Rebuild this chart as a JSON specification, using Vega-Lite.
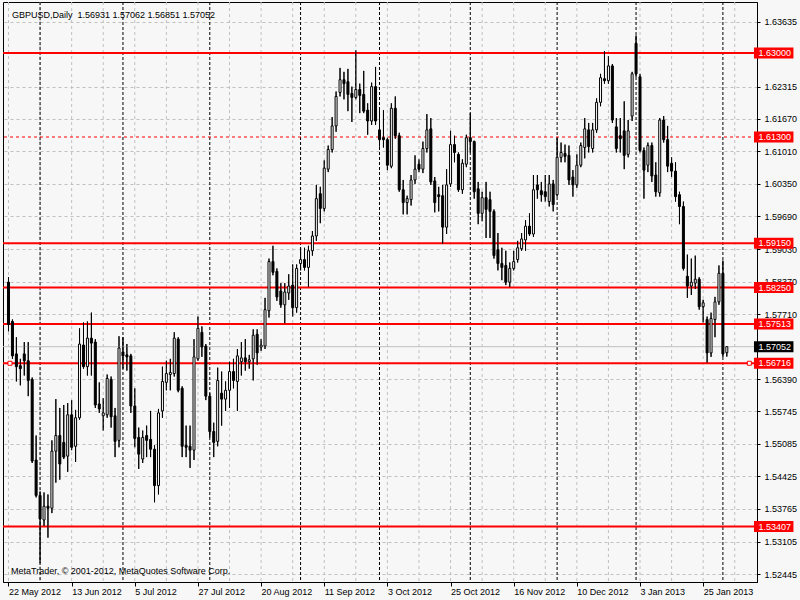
{
"$schema":"https://vega.github.io/schema/vega-lite/v6.json",
"width":754,"height":580,
"autosize":{"type":"none"},
"padding":{"left":3,"top":2,"right":43,"bottom":18},
"background":"#f7f7f7",
"config":{"font":"Liberation Sans","view":{"stroke":"black","strokeWidth":1,"fill":"#f7f7f7"},"axis":{"labelFont":"Liberation Sans","labelFontSize":9,"labelColor":"black","domainColor":"black","tickColor":"black"}},
"datasets":{
"k":[
{"o":1.58359,"h":1.58459,"l":1.57364,"c":1.57503},
{"o":1.57563,"h":1.57603,"l":1.56806,"c":1.56866},
{"o":1.56906,"h":1.57244,"l":1.56348,"c":1.56647},
{"o":1.56667,"h":1.56806,"l":1.56269,"c":1.56607},
{"o":1.56906,"h":1.57145,"l":1.56468,"c":1.56767},
{"o":1.56767,"h":1.57145,"l":1.56050,"c":1.56368},
{"o":1.56388,"h":1.56428,"l":1.54696,"c":1.54736},
{"o":1.54756,"h":1.55253,"l":1.53999,"c":1.54039},
{"o":1.54039,"h":1.54119,"l":1.52665,"c":1.53561},
{"o":1.53541,"h":1.54099,"l":1.53422,"c":1.53820},
{"o":1.53820,"h":1.54059,"l":1.53183,"c":1.53780},
{"o":1.53780,"h":1.55154,"l":1.53681,"c":1.54935},
{"o":1.54935,"h":1.55990,"l":1.54298,"c":1.55253},
{"o":1.55253,"h":1.55811,"l":1.54357,"c":1.54676},
{"o":1.55114,"h":1.55871,"l":1.54776,"c":1.54815},
{"o":1.54835,"h":1.55910,"l":1.54517,"c":1.55672},
{"o":1.55672,"h":1.55970,"l":1.54955,"c":1.55014},
{"o":1.55034,"h":1.55771,"l":1.54716,"c":1.55612},
{"o":1.55612,"h":1.57424,"l":1.55572,"c":1.57105},
{"o":1.57085,"h":1.57543,"l":1.56607,"c":1.56647},
{"o":1.56647,"h":1.57563,"l":1.56468,"c":1.57225},
{"o":1.57225,"h":1.57742,"l":1.56468,"c":1.57125},
{"o":1.57145,"h":1.57205,"l":1.55811,"c":1.55871},
{"o":1.55891,"h":1.56329,"l":1.55711,"c":1.55791},
{"o":1.55652,"h":1.56010,"l":1.55353,"c":1.55711},
{"o":1.55672,"h":1.56488,"l":1.55612,"c":1.56408},
{"o":1.56388,"h":1.56448,"l":1.55413,"c":1.55632},
{"o":1.55652,"h":1.55811,"l":1.54815,"c":1.55134},
{"o":1.55154,"h":1.57264,"l":1.55014,"c":1.57025},
{"o":1.56946,"h":1.57244,"l":1.56607,"c":1.56866},
{"o":1.56886,"h":1.57105,"l":1.56567,"c":1.56846},
{"o":1.56866,"h":1.56906,"l":1.55711,"c":1.55851},
{"o":1.55851,"h":1.56209,"l":1.55014,"c":1.55194},
{"o":1.55214,"h":1.55413,"l":1.54576,"c":1.54875},
{"o":1.54776,"h":1.55353,"l":1.54696,"c":1.55214},
{"o":1.55253,"h":1.55453,"l":1.54815,"c":1.55154},
{"o":1.55174,"h":1.55751,"l":1.54815,"c":1.54975},
{"o":1.54975,"h":1.55054,"l":1.53900,"c":1.54238},
{"o":1.54238,"h":1.55791,"l":1.54059,"c":1.55711},
{"o":1.55751,"h":1.56647,"l":1.55612,"c":1.56348},
{"o":1.56329,"h":1.56767,"l":1.56169,"c":1.56508},
{"o":1.56488,"h":1.56806,"l":1.56169,"c":1.56528},
{"o":1.56508,"h":1.57344,"l":1.56448,"c":1.57225},
{"o":1.57205,"h":1.57244,"l":1.56129,"c":1.56169},
{"o":1.56209,"h":1.56249,"l":1.54815,"c":1.55034},
{"o":1.55054,"h":1.55453,"l":1.54815,"c":1.55014},
{"o":1.55034,"h":1.55453,"l":1.54596,"c":1.54955},
{"o":1.54955,"h":1.57205,"l":1.54756,"c":1.56846},
{"o":1.56806,"h":1.57663,"l":1.56767,"c":1.57424},
{"o":1.57344,"h":1.57463,"l":1.56846,"c":1.57045},
{"o":1.57065,"h":1.57105,"l":1.55970,"c":1.56050},
{"o":1.56050,"h":1.56110,"l":1.55214,"c":1.55333},
{"o":1.55333,"h":1.55512,"l":1.54815,"c":1.55114},
{"o":1.55134,"h":1.56627,"l":1.55034,"c":1.56368},
{"o":1.56110,"h":1.56548,"l":1.55453,"c":1.55990},
{"o":1.55990,"h":1.56348,"l":1.55751,"c":1.56169},
{"o":1.56169,"h":1.56747,"l":1.55811,"c":1.56548},
{"o":1.56548,"h":1.56806,"l":1.56209,"c":1.56368},
{"o":1.56348,"h":1.57005,"l":1.55751,"c":1.56866},
{"o":1.56747,"h":1.57145,"l":1.56468,"c":1.56826},
{"o":1.56826,"h":1.57205,"l":1.56567,"c":1.56747},
{"o":1.56747,"h":1.56886,"l":1.56607,"c":1.56787},
{"o":1.56806,"h":1.57404,"l":1.56368,"c":1.57284},
{"o":1.57304,"h":1.57404,"l":1.56687,"c":1.56926},
{"o":1.57045,"h":1.57205,"l":1.56966,"c":1.57085},
{"o":1.57065,"h":1.58041,"l":1.57005,"c":1.57802},
{"o":1.57782,"h":1.58837,"l":1.57643,"c":1.58777},
{"o":1.58777,"h":1.59096,"l":1.58499,"c":1.58558},
{"o":1.58578,"h":1.58638,"l":1.57981,"c":1.58061},
{"o":1.58180,"h":1.58339,"l":1.57842,"c":1.57901},
{"o":1.57901,"h":1.58339,"l":1.57523,"c":1.58160},
{"o":1.58140,"h":1.58519,"l":1.58001,"c":1.58280},
{"o":1.58300,"h":1.58718,"l":1.57663,"c":1.57842},
{"o":1.57842,"h":1.58718,"l":1.57742,"c":1.58638},
{"o":1.58738,"h":1.59056,"l":1.58598,"c":1.58817},
{"o":1.58817,"h":1.59056,"l":1.58598,"c":1.58658},
{"o":1.58658,"h":1.59096,"l":1.58260,"c":1.58996},
{"o":1.58996,"h":1.59395,"l":1.58897,"c":1.59295},
{"o":1.59295,"h":1.60330,"l":1.59196,"c":1.60052},
{"o":1.60151,"h":1.60291,"l":1.59554,"c":1.59853},
{"o":1.59853,"h":1.60828,"l":1.59793,"c":1.60669},
{"o":1.60649,"h":1.61127,"l":1.60589,"c":1.61047},
{"o":1.61047,"h":1.61704,"l":1.60987,"c":1.61525},
{"o":1.61525,"h":1.62222,"l":1.61406,"c":1.62122},
{"o":1.62202,"h":1.62700,"l":1.62122,"c":1.62461},
{"o":1.62461,"h":1.62620,"l":1.62063,"c":1.62381},
{"o":1.62421,"h":1.62680,"l":1.61824,"c":1.62162},
{"o":1.62182,"h":1.62321,"l":1.61605,"c":1.62102},
{"o":1.62102,"h":1.63058,"l":1.62063,"c":1.62262},
{"o":1.62262,"h":1.62381,"l":1.61784,"c":1.62142},
{"o":1.62162,"h":1.62640,"l":1.61784,"c":1.61824},
{"o":1.61844,"h":1.61983,"l":1.61346,"c":1.61625},
{"o":1.61625,"h":1.62401,"l":1.61545,"c":1.62321},
{"o":1.62321,"h":1.62720,"l":1.61545,"c":1.61625},
{"o":1.61445,"h":1.61844,"l":1.61107,"c":1.61246},
{"o":1.61286,"h":1.61844,"l":1.61087,"c":1.61246},
{"o":1.61246,"h":1.61286,"l":1.60629,"c":1.60729},
{"o":1.60709,"h":1.61983,"l":1.60669,"c":1.61883},
{"o":1.61883,"h":1.62122,"l":1.61266,"c":1.61326},
{"o":1.61326,"h":1.61386,"l":1.60191,"c":1.60231},
{"o":1.60231,"h":1.60430,"l":1.59733,"c":1.59972},
{"o":1.59972,"h":1.60111,"l":1.59733,"c":1.60052},
{"o":1.60032,"h":1.60530,"l":1.59912,"c":1.60430},
{"o":1.60430,"h":1.60928,"l":1.60350,"c":1.60649},
{"o":1.60749,"h":1.60848,"l":1.60589,"c":1.60649},
{"o":1.60649,"h":1.61207,"l":1.60569,"c":1.61067},
{"o":1.61067,"h":1.61764,"l":1.60987,"c":1.61445},
{"o":1.61465,"h":1.61684,"l":1.60330,"c":1.60390},
{"o":1.60410,"h":1.60490,"l":1.59773,"c":1.59972},
{"o":1.60131,"h":1.60291,"l":1.59793,"c":1.60092},
{"o":1.60111,"h":1.60330,"l":1.59136,"c":1.59474},
{"o":1.59474,"h":1.60649,"l":1.59335,"c":1.60330},
{"o":1.60350,"h":1.61426,"l":1.60291,"c":1.61147},
{"o":1.61147,"h":1.61326,"l":1.60788,"c":1.60987},
{"o":1.60948,"h":1.60987,"l":1.60191,"c":1.60231},
{"o":1.60231,"h":1.60848,"l":1.60151,"c":1.60768},
{"o":1.60749,"h":1.61346,"l":1.60689,"c":1.61286},
{"o":1.61286,"h":1.61784,"l":1.60987,"c":1.61207},
{"o":1.61207,"h":1.61226,"l":1.60052,"c":1.60191},
{"o":1.60251,"h":1.60390,"l":1.59534,"c":1.59753},
{"o":1.59753,"h":1.60191,"l":1.59594,"c":1.60072},
{"o":1.60072,"h":1.60390,"l":1.59255,"c":1.59833},
{"o":1.60032,"h":1.60191,"l":1.59255,"c":1.59793},
{"o":1.59793,"h":1.59833,"l":1.58837,"c":1.58897},
{"o":1.59016,"h":1.59355,"l":1.58598,"c":1.58738},
{"o":1.58738,"h":1.59056,"l":1.58399,"c":1.58658},
{"o":1.58698,"h":1.58996,"l":1.58300,"c":1.58359},
{"o":1.58359,"h":1.58758,"l":1.58260,"c":1.58638},
{"o":1.58638,"h":1.58996,"l":1.58598,"c":1.58777},
{"o":1.58817,"h":1.59196,"l":1.58757,"c":1.59056},
{"o":1.59036,"h":1.59355,"l":1.58996,"c":1.59235},
{"o":1.59215,"h":1.59614,"l":1.58996,"c":1.59494},
{"o":1.59494,"h":1.59753,"l":1.59295,"c":1.59335},
{"o":1.59335,"h":1.60530,"l":1.59275,"c":1.60231},
{"o":1.60330,"h":1.60530,"l":1.60052,"c":1.60231},
{"o":1.60211,"h":1.60390,"l":1.59992,"c":1.60131},
{"o":1.60191,"h":1.60530,"l":1.59992,"c":1.60092},
{"o":1.59992,"h":1.60530,"l":1.59892,"c":1.60350},
{"o":1.60350,"h":1.60430,"l":1.59793,"c":1.59932},
{"o":1.60131,"h":1.61286,"l":1.60092,"c":1.60888},
{"o":1.60888,"h":1.61187,"l":1.60788,"c":1.60987},
{"o":1.60968,"h":1.61147,"l":1.60788,"c":1.60908},
{"o":1.60928,"h":1.61127,"l":1.60330,"c":1.60430},
{"o":1.60490,"h":1.60629,"l":1.60092,"c":1.60330},
{"o":1.60330,"h":1.60948,"l":1.60271,"c":1.60729},
{"o":1.60729,"h":1.61187,"l":1.60689,"c":1.61127},
{"o":1.61087,"h":1.61684,"l":1.60868,"c":1.61465},
{"o":1.61445,"h":1.61585,"l":1.60987,"c":1.61107},
{"o":1.61067,"h":1.61585,"l":1.60987,"c":1.61445},
{"o":1.61445,"h":1.62083,"l":1.61386,"c":1.62003},
{"o":1.62003,"h":1.62580,"l":1.61923,"c":1.62501},
{"o":1.62481,"h":1.63038,"l":1.62381,"c":1.62441},
{"o":1.62441,"h":1.62939,"l":1.62381,"c":1.62740},
{"o":1.62740,"h":1.62779,"l":1.61585,"c":1.61644},
{"o":1.61505,"h":1.61684,"l":1.60987,"c":1.61067},
{"o":1.61326,"h":1.61684,"l":1.60987,"c":1.61266},
{"o":1.61425,"h":1.62023,"l":1.60649,"c":1.60928},
{"o":1.60948,"h":1.61644,"l":1.60888,"c":1.61425},
{"o":1.61724,"h":1.62620,"l":1.61625,"c":1.62580},
{"o":1.63197,"h":1.63357,"l":1.62521,"c":1.62580},
{"o":1.62521,"h":1.62580,"l":1.60987,"c":1.61027},
{"o":1.61027,"h":1.61087,"l":1.60052,"c":1.60629},
{"o":1.60729,"h":1.61187,"l":1.60589,"c":1.61127},
{"o":1.61127,"h":1.61187,"l":1.60390,"c":1.60510},
{"o":1.60530,"h":1.60788,"l":1.60092,"c":1.60191},
{"o":1.60171,"h":1.61684,"l":1.60092,"c":1.61644},
{"o":1.61644,"h":1.61724,"l":1.61187,"c":1.61246},
{"o":1.61246,"h":1.61525,"l":1.60589,"c":1.60709},
{"o":1.60768,"h":1.60888,"l":1.60490,"c":1.60609},
{"o":1.60609,"h":1.60788,"l":1.59992,"c":1.60092},
{"o":1.60131,"h":1.60191,"l":1.59534,"c":1.59892},
{"o":1.59892,"h":1.59992,"l":1.58598,"c":1.58638},
{"o":1.58479,"h":1.58917,"l":1.58041,"c":1.58280},
{"o":1.58280,"h":1.58837,"l":1.58100,"c":1.58359},
{"o":1.58340,"h":1.58897,"l":1.58220,"c":1.58419},
{"o":1.58419,"h":1.58459,"l":1.57802,"c":1.57862},
{"o":1.57862,"h":1.58001,"l":1.57543,"c":1.57941},
{"o":1.57603,"h":1.57663,"l":1.56727,"c":1.56926},
{"o":1.56926,"h":1.57742,"l":1.56846,"c":1.57623},
{"o":1.57603,"h":1.58061,"l":1.57244,"c":1.57961},
{"o":1.57961,"h":1.58698,"l":1.57901,"c":1.58539},
{"o":1.58539,"h":1.58797,"l":1.56846,"c":1.56906},
{"o":1.56931,"h":1.57062,"l":1.56851,"c":1.57052}
],
"grid":[{"g":1},{"g":9},{"g":17},{"g":25},{"g":33},{"g":41},{"g":49},{"g":57},{"g":65},{"g":73},{"g":81},{"g":89},{"g":97},{"g":105},{"g":113},{"g":121},{"g":129},{"g":137},{"g":145},{"g":153},{"g":161},{"g":169},{"g":177},{"g":185}],
"months":[{"m":9},{"m":30},{"m":52},{"m":75},{"m":95},{"m":118},{"m":140},{"m":160},{"m":182}],
"levels":[{"p":1.63},{"p":1.5915},{"p":1.5825},{"p":1.57513},{"p":1.56716},{"p":1.53407}],
"dashed":[{"p":1.613}],
"tags":[{"p":1.63},{"p":1.613},{"p":1.5915},{"p":1.5825},{"p":1.57513},{"p":1.56716},{"p":1.53407}],
"bid":[{"p":1.57052}],
"handles":[{"a":1.375,"p":1.56716},{"a":188.7,"p":1.56716}]
},
"data":{"name":"k"},
"transform":[{"window":[{"op":"row_number","as":"n"}]}],
"layer":[
{"mark":{"type":"rule","color":"black","strokeWidth":1},
 "encoding":{
  "x":{"field":"n","type":"quantitative","scale":{"domain":[0.875,189.375],"nice":false,"zero":false},
   "axis":{"title":null,"values":[1,17,33,49,65,81,97,113,129,145,161,177],"tickCount":30,
    "labelExpr":"['22 May 2012','13 Jun 2012','5 Jul 2012','27 Jul 2012','20 Aug 2012','11 Sep 2012','3 Oct 2012','25 Oct 2012','16 Nov 2012','10 Dec 2012','3 Jan 2013','25 Jan 2013'][round((datum.value-1)/16)]",
    "grid":false,"tickSize":4,"labelAlign":"left","labelBaseline":"top","labelPadding":1,"labelFlush":false,"labelOverlap":false,"labelDx":-1}},
  "y":{"field":"l","type":"quantitative","scale":{"domain":[1.52386,1.63934],"nice":false,"zero":false},
   "axis":{"title":null,"orient":"right","values":[1.63635,1.62315,1.6167,1.6101,1.6035,1.5969,1.5903,1.5837,1.5771,1.5639,1.55745,1.55085,1.54425,1.53765,1.53105,1.52445],"tickCount":40,
    "format":".5f","grid":true,"gridColor":"#c0c0c0","gridDash":[3,3],"gridOpacity":1,"tickSize":3,"labelPadding":4,"labelOverlap":false,"labelFlush":false}},
  "y2":{"field":"h"}}},
{"data":{"name":"grid"},"mark":{"type":"rule","color":"#c0c0c0","strokeWidth":1,"strokeDash":[3,3]},
 "encoding":{"x":{"field":"g","type":"quantitative"}}},
{"data":{"name":"months"},"mark":{"type":"rule","color":"black","strokeWidth":1,"strokeDash":[3,2]},
 "encoding":{"x":{"field":"m","type":"quantitative"}}},
{"data":{"name":"bid"},"mark":{"type":"rule","color":"#c0c0c0","strokeWidth":1},
 "encoding":{"y":{"field":"p","type":"quantitative"}}},
{"data":{"name":"levels"},"mark":{"type":"rule","color":"#ff0000","strokeWidth":2},
 "encoding":{"y":{"field":"p","type":"quantitative"}}},
{"data":{"name":"dashed"},"mark":{"type":"rule","color":"#ff0000","strokeWidth":1,"strokeDash":[3,3]},
 "encoding":{"y":{"field":"p","type":"quantitative"}}},
{"mark":{"type":"rule","color":"black","strokeWidth":1},
 "encoding":{"x":{"field":"n","type":"quantitative"},"y":{"field":"l","type":"quantitative"},"y2":{"field":"h"}}},
{"mark":{"type":"bar","size":2,"stroke":"black","strokeWidth":1},
 "encoding":{
  "x":{"field":"n","type":"quantitative"},
  "y":{"field":"o","type":"quantitative"},
  "y2":{"field":"c"},
  "fill":{"condition":{"test":"datum.c>=datum.o","value":"white"},"value":"black"}}},
{"data":{"name":"tags"},"mark":{"type":"bar","size":11,"color":"#ff0000"},
 "encoding":{"x":{"datum":189.875,"type":"quantitative"},"x2":{"datum":199.875},"y":{"field":"p","type":"quantitative"}}},
{"data":{"name":"tags"},"mark":{"type":"text","align":"left","baseline":"middle","color":"white","fontSize":9,"font":"Liberation Sans"},
 "encoding":{"x":{"datum":191,"type":"quantitative"},"y":{"field":"p","type":"quantitative"},"text":{"field":"p","type":"quantitative","format":".5f"}}},
{"data":{"name":"bid"},"mark":{"type":"bar","size":11,"color":"black"},
 "encoding":{"x":{"datum":189.875,"type":"quantitative"},"x2":{"datum":199.875},"y":{"field":"p","type":"quantitative"}}},
{"data":{"name":"bid"},"mark":{"type":"text","align":"left","baseline":"middle","color":"white","fontSize":9,"font":"Liberation Sans"},
 "encoding":{"x":{"datum":191,"type":"quantitative"},"y":{"field":"p","type":"quantitative"},"text":{"field":"p","type":"quantitative","format":".5f"}}},
{"data":{"name":"handles"},"mark":{"type":"point","shape":"square","size":16,"filled":true,"fill":"white","stroke":"#ff0000","strokeWidth":1,"opacity":1},
 "encoding":{"x":{"field":"a","type":"quantitative"},"y":{"field":"p","type":"quantitative"}}},
{"data":{"values":[{}]},"mark":{"type":"text","align":"left","baseline":"middle","fontSize":9,"font":"Liberation Sans","color":"black","text":"GBPUSD,Daily\u00a0 1.56931 1.57062 1.56851 1.57052"},
 "encoding":{"x":{"datum":1.875,"type":"quantitative"},"y":{"datum":1.63775,"type":"quantitative"}}},
{"data":{"values":[{}]},"mark":{"type":"text","align":"left","baseline":"middle","fontSize":9,"font":"Liberation Sans","color":"black","text":"MetaTrader, © 2001-2012, MetaQuotes Software Corp."},
 "encoding":{"x":{"datum":1.625,"type":"quantitative"},"y":{"datum":1.52506,"type":"quantitative"}}}
]
}
